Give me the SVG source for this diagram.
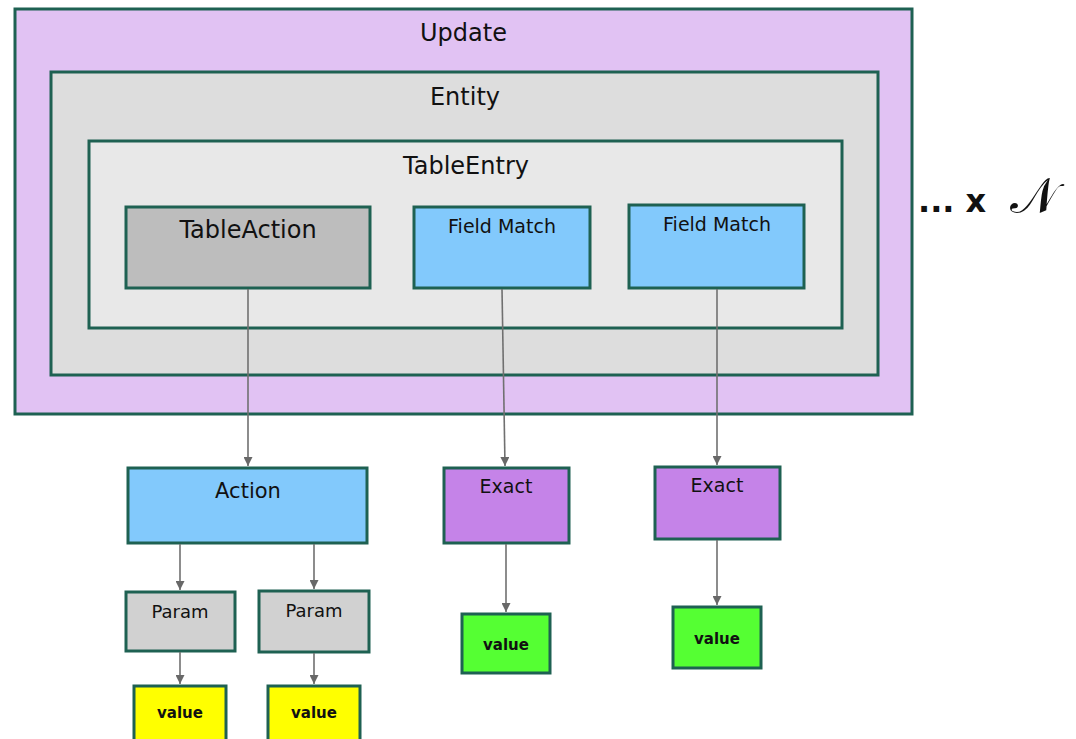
<svg xmlns="http://www.w3.org/2000/svg" width="1076" height="739" viewBox="0 0 1076 739">
  <defs>
    <marker id="arrow" viewBox="0 0 10 10" refX="10" refY="5" markerWidth="9" markerHeight="9" orient="auto" markerUnits="userSpaceOnUse">
      <path d="M0,0 L10,5 L0,10 z" fill="#686868"/>
    </marker>
    <style>
      .box { stroke: #1e6152; stroke-width: 3; }
      .update { fill: #e1c2f3; }
      .entity { fill: #dddddd; }
      .entry { fill: #e8e8e8; }
      .tact { fill: #bdbdbd; }
      .blue { fill: #82c9fc; }
      .purple { fill: #c583e8; }
      .grey { fill: #d1d1d1; }
      .yellow { fill: #ffff00; }
      .green { fill: #55ff33; }
      text { font-family: "DejaVu Sans", sans-serif; fill: #111; text-anchor: middle; }
      .t24 { font-size: 24px; }
      .t19 { font-size: 19px; }
      .t18 { font-size: 18px; }
      .t21 { font-size: 21px; }
      .val { font-size: 15px; font-weight: bold; }
      .conn { stroke: #707070; stroke-width: 1.6; fill: none; marker-end: url(#arrow); }
    </style>
  </defs>

  <rect width="1076" height="739" fill="#ffffff"/>

  <!-- Nested containers -->
  <g id="update">
    <rect class="box update" x="15" y="9" width="897" height="405"/>
    <text class="t24" x="463.5" y="41">Update</text>
  </g>
  <g id="entity">
    <rect class="box entity" x="51" y="72" width="827" height="303"/>
    <text class="t24" x="465" y="105">Entity</text>
  </g>
  <g id="table-entry">
    <rect class="box entry" x="89" y="141" width="753" height="187"/>
    <text class="t24" x="466" y="174">TableEntry</text>
  </g>
  <g id="table-action">
    <rect class="box tact" x="126" y="207" width="244" height="81"/>
    <text class="t24" x="248" y="238">TableAction</text>
  </g>
  <g id="field-match-1">
    <rect class="box blue" x="414" y="207" width="176" height="81"/>
    <text class="t19" x="502" y="233">Field Match</text>
  </g>
  <g id="field-match-2">
    <rect class="box blue" x="629" y="205" width="175" height="83"/>
    <text class="t19" x="717" y="231">Field Match</text>
  </g>

  <!-- Repetition note -->
  <g id="repeat-note">
    <text x="918" y="212" style="text-anchor:start;font-size:32px;font-weight:bold;">... x</text>
    <text x="1010" y="213" style="text-anchor:start;font-size:50px;font-family:'DejaVu Serif','DejaVu Sans',serif;">𝒩</text>
  </g>

  <!-- Lower nodes -->
  <g id="action">
    <rect class="box blue" x="128" y="468" width="239" height="75"/>
    <text class="t21" x="248" y="498">Action</text>
  </g>
  <g id="exact-1">
    <rect class="box purple" x="444" y="468" width="125" height="75"/>
    <text class="t19" x="506" y="493">Exact</text>
  </g>
  <g id="exact-2">
    <rect class="box purple" x="655" y="467" width="125" height="72"/>
    <text class="t19" x="717" y="492">Exact</text>
  </g>
  <g id="param-1">
    <rect class="box grey" x="126" y="592" width="109" height="59"/>
    <text class="t18" x="180" y="618">Param</text>
  </g>
  <g id="param-2">
    <rect class="box grey" x="259" y="591" width="110" height="61"/>
    <text class="t18" x="314" y="617">Param</text>
  </g>
  <g id="value-1">
    <rect class="box yellow" x="134" y="686" width="92" height="60"/>
    <text class="val" x="180" y="718">value</text>
  </g>
  <g id="value-2">
    <rect class="box yellow" x="268" y="686" width="92" height="60"/>
    <text class="val" x="314" y="718">value</text>
  </g>
  <g id="value-3">
    <rect class="box green" x="462" y="614" width="88" height="59"/>
    <text class="val" x="506" y="650">value</text>
  </g>
  <g id="value-4">
    <rect class="box green" x="673" y="607" width="88" height="61"/>
    <text class="val" x="717" y="644">value</text>
  </g>

  <!-- Connectors -->
  <g id="connectors">
    <line class="conn" x1="248" y1="289" x2="248" y2="466"/>
    <line class="conn" x1="502" y1="289" x2="505" y2="466"/>
    <line class="conn" x1="717" y1="289" x2="717" y2="465"/>
    <line class="conn" x1="180" y1="544" x2="180" y2="590"/>
    <line class="conn" x1="314" y1="544" x2="314" y2="589"/>
    <line class="conn" x1="180" y1="652" x2="180" y2="684"/>
    <line class="conn" x1="314" y1="653" x2="314" y2="684"/>
    <line class="conn" x1="506" y1="544" x2="506" y2="612"/>
    <line class="conn" x1="717" y1="540" x2="717" y2="605"/>
  </g>
</svg>
